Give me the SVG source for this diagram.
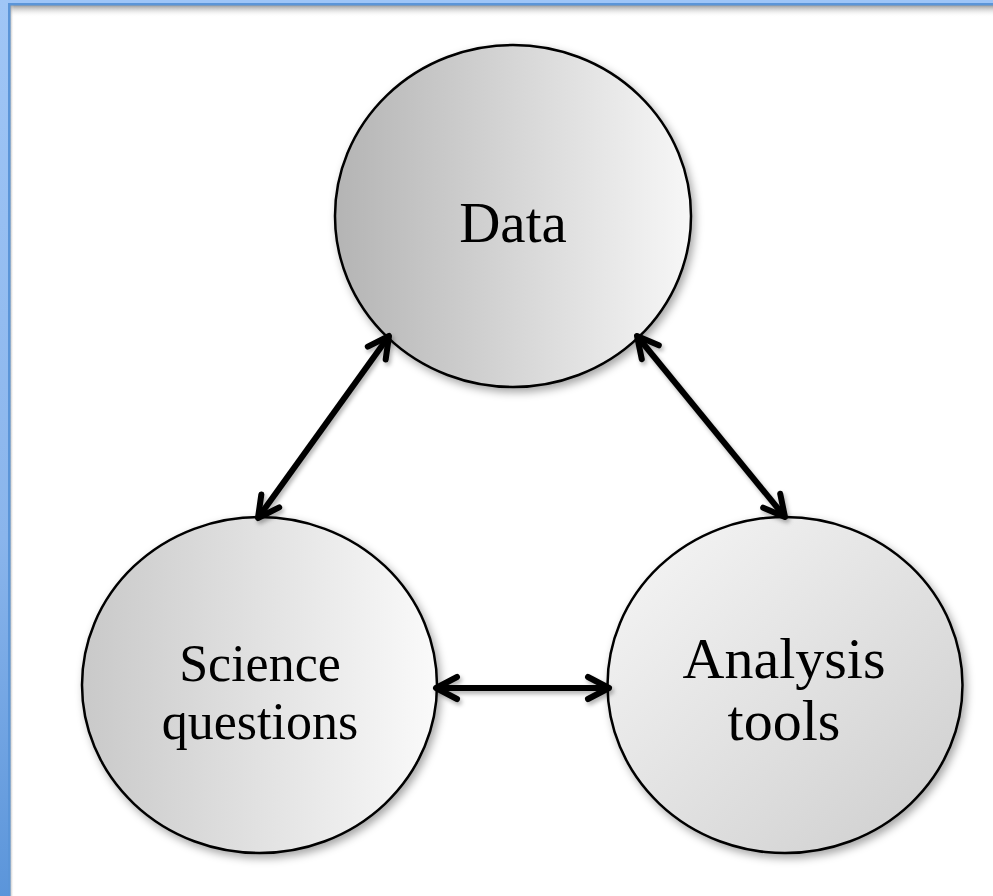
<svg xmlns="http://www.w3.org/2000/svg" width="993" height="896" viewBox="0 0 993 896">
  <defs>
    <linearGradient id="gLeft" x1="0" y1="0" x2="0" y2="1">
      <stop offset="0" stop-color="#a0c6f6"/>
      <stop offset="0.6" stop-color="#8ab5ec"/>
      <stop offset="1" stop-color="#5b95da"/>
    </linearGradient>
    <linearGradient id="gTopShadow" x1="0" y1="0" x2="0" y2="1">
      <stop offset="0" stop-color="#8c8c8c" stop-opacity="0.9"/>
      <stop offset="1" stop-color="#ffffff" stop-opacity="0"/>
    </linearGradient>
    <linearGradient id="gLeftShadow" x1="0" y1="0" x2="1" y2="0">
      <stop offset="0" stop-color="#8c8c8c" stop-opacity="0.7"/>
      <stop offset="1" stop-color="#ffffff" stop-opacity="0"/>
    </linearGradient>
    <linearGradient id="gData" x1="0" y1="0" x2="1" y2="0">
      <stop offset="0" stop-color="#b4b4b4"/>
      <stop offset="1" stop-color="#f7f7f7"/>
    </linearGradient>
    <linearGradient id="gSci" x1="0" y1="0" x2="1" y2="0">
      <stop offset="0" stop-color="#c9c9c9"/>
      <stop offset="1" stop-color="#fafafa"/>
    </linearGradient>
    <linearGradient id="gAna" x1="0" y1="0" x2="1" y2="1">
      <stop offset="0" stop-color="#f7f7f7"/>
      <stop offset="1" stop-color="#cdcdcd"/>
    </linearGradient>
    <filter id="shadow" x="-20%" y="-20%" width="140%" height="140%">
      <feDropShadow dx="3" dy="4" stdDeviation="4" flood-color="#000" flood-opacity="0.35"/>
    </filter>
    <filter id="lshadow" x="-20%" y="-20%" width="140%" height="140%">
      <feDropShadow dx="2" dy="3" stdDeviation="2" flood-color="#000" flood-opacity="0.3"/>
    </filter>
    <marker id="head" viewBox="-30 -18 36 36" markerWidth="36" markerHeight="36" refX="0" refY="0" orient="auto-start-reverse" markerUnits="userSpaceOnUse" overflow="visible">
      <path d="M-21,-11 L0,0 L-21,11" fill="none" stroke="#000" stroke-width="6" stroke-linecap="round" stroke-linejoin="round"/>
    </marker>
  </defs>
  <style>
    .node { stroke: #000; stroke-width: 2.5; filter: url(#shadow); }
    .label { font-family: "Liberation Serif", "Times New Roman", serif; fill: #000; text-anchor: middle; }
    .conn { fill: none; stroke: #000; stroke-width: 6; marker-start: url(#head); marker-end: url(#head); }
  </style>

  <rect x="0" y="0" width="993" height="896" fill="#ffffff"/>
  <g id="frame">
    <rect x="10" y="5" width="983" height="12" fill="url(#gTopShadow)"/>
    <rect x="10" y="5" width="4" height="891" fill="url(#gLeftShadow)"/>
    <rect x="0" y="0" width="993" height="3" fill="#9ec5f7"/>
    <rect x="0" y="3" width="993" height="2.5" fill="#5b95d8"/>
    <rect x="0" y="0" width="8" height="896" fill="url(#gLeft)"/>
    <rect x="8" y="3" width="2.5" height="893" fill="#5b95d8"/>
  </g>

  <g id="node-data">
    <ellipse class="node" cx="513" cy="216" rx="178" ry="171" fill="url(#gData)"/>
    <text class="label" x="513" y="242" font-size="57">Data</text>
  </g>
  <g id="node-science">
    <ellipse class="node" cx="259.5" cy="685" rx="177.5" ry="168" fill="url(#gSci)"/>
    <text class="label" x="260" y="681" font-size="52">Science</text>
    <text class="label" x="260" y="739" font-size="52">questions</text>
  </g>
  <g id="node-analysis">
    <ellipse class="node" cx="785" cy="685" rx="177.5" ry="168" fill="url(#gAna)"/>
    <text class="label" x="784" y="678" font-size="58">Analysis</text>
    <text class="label" x="784" y="740" font-size="58">tools</text>
  </g>

  <g id="connectors" filter="url(#lshadow)">
    <line class="conn" x1="389" y1="336" x2="258" y2="518"/>
    <line class="conn" x1="637" y1="336" x2="785" y2="517"/>
    <line class="conn" x1="436" y1="688" x2="609" y2="688"/>
  </g>
</svg>
